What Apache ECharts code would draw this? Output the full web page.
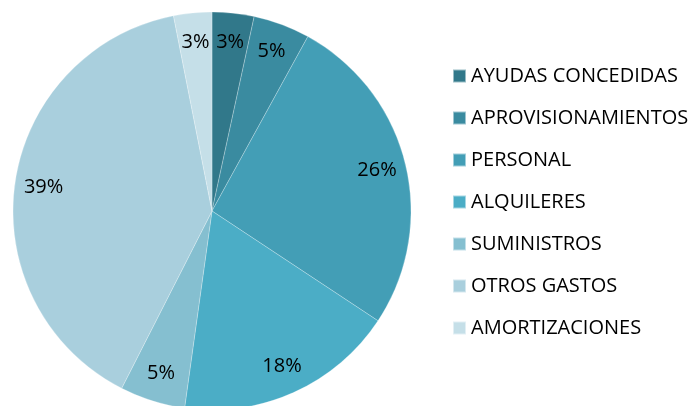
<!DOCTYPE html>
<html>
<head>
<meta charset="utf-8">
<script src="https://cdn.jsdelivr.net/npm/echarts@6/dist/echarts.min.js"></script>
<style>
  html, body { margin: 0; padding: 0; background: #fff; }
  #gastos { width: 699px; height: 406px; }
</style>
</head>
<body>
<div id="gastos"></div>
<script>
  var categorias = ['AYUDAS CONCEDIDAS', 'APROVISIONAMIENTOS', 'PERSONAL', 'ALQUILERES', 'SUMINISTROS', 'OTROS GASTOS', 'AMORTIZACIONES'];
  var valores = [3.4, 4.6, 26.3, 17.9, 5.3, 39.4, 3.1];
  var colores = ['#31788a', '#3a8ba0', '#439eb6', '#4badc6', '#85bfd0', '#a9cfdd', '#c5dfe8'];

  var datos = [];
  for (var i = 0; i < categorias.length; i++) {
    datos.push({ name: categorias[i], value: valores[i], itemStyle: { color: colores[i] } });
  }

  var chart = echarts.init(document.getElementById('gastos'));
  chart.setOption({
    backgroundColor: '#fff',
    animation: false,
    legend: {
      orient: 'vertical',
      left: 447,
      top: 61,
      itemWidth: 13,
      itemHeight: 13,
      itemGap: 22,
      icon: 'rect',
      textStyle: { fontFamily: 'Open Sans', fontSize: 20, color: '#000', lineHeight: 20 },
      data: categorias
    },
    series: [
      {
        name: 'gastos',
        type: 'pie',
        center: [212, 211],
        radius: [0, 199],
        startAngle: 90,
        label: { show: false },
        labelLine: { show: false },
        itemStyle: { borderColor: 'rgba(255,255,255,0.5)', borderWidth: 0.5 },
        data: datos
      },
      {
        // capa sólo para colocar las etiquetas más cerca del borde
        name: 'etiquetas',
        type: 'pie',
        silent: true,
        center: [212, 211],
        radius: [134, 200],
        startAngle: 90,
        itemStyle: { color: 'transparent' },
        label: {
          show: true,
          position: 'inside',
          formatter: function (p) { return Math.round(p.percent) + '%'; },
          fontFamily: 'Open Sans',
          fontSize: 20,
          color: '#000'
        },
        labelLine: { show: false },
        data: valores.map(function (v, i) { return { name: categorias[i] + ' ', value: v }; })
      }
    ]
  });
</script>
</body>
</html>
